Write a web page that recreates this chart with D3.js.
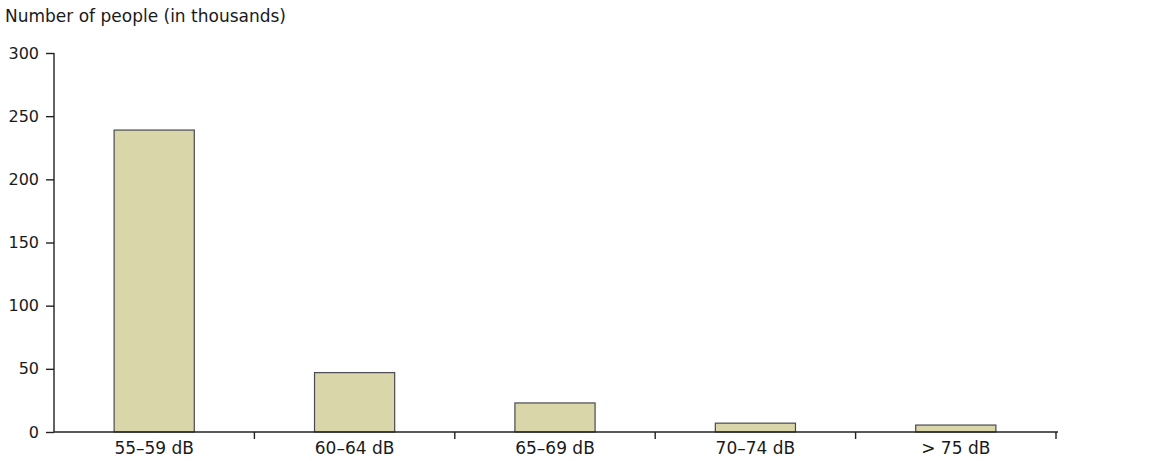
<!DOCTYPE html>
<html><head><meta charset="utf-8">
<script src="https://cdn.jsdelivr.net/npm/d3@7"></script>
<style>body{margin:0;background:#fff;}svg{display:block;font-family:"DejaVu Sans",Verdana,sans-serif;}</style>
</head><body>
<script>
const categories = ["55–59 dB","60–64 dB","65–69 dB","70–74 dB","> 75 dB"];
const values = [239, 47, 23, 7, 5.5];
const yTicks = [0,50,100,150,200,250,300];
const yTitle = "Number of people (in thousands)";

const W=1155,H=461, m={l:54,r:99,t:53,b:29};
const svg=d3.select("body").append("svg").attr("width",W).attr("height",H);
const x=d3.scaleBand().domain(categories).range([m.l,W-m.r]).paddingInner(0.6).paddingOuter(0.3);
const y=d3.scaleLinear().domain([0,300]).range([H-m.b,m.t]);

svg.append("text").attr("x",5).attr("y",22).attr("font-size",17).attr("fill","#1a1a1a").text(yTitle);

svg.selectAll("rect.bar").data(values).join("rect").attr("class","bar")
  .attr("x",(d,i)=>x(categories[i])).attr("width",x.bandwidth())
  .attr("y",d=>y(d)).attr("height",d=>y(0)-y(d))
  .attr("fill","#d9d7a9").attr("stroke","#4a4a50").attr("stroke-width",1.2);

const ya=svg.append("g").attr("transform",`translate(${m.l},0)`)
  .call(d3.axisLeft(y).tickValues(yTicks).tickSize(8).tickPadding(7));
ya.selectAll("text").attr("font-size",16).attr("fill","#1a1a1a").style("font-family","DejaVu Sans, Verdana, sans-serif");
ya.selectAll("line,path").attr("stroke","#222").attr("stroke-width",1.4);
ya.select(".domain").attr("d",`M0,${y(300)}V${y(0)}`);

// x axis with ticks at category boundaries
const xa=svg.append("g").attr("transform",`translate(0,${y(0)})`);
xa.append("line").attr("x1",m.l).attr("x2",W-m.r+2).attr("stroke","#222").attr("stroke-width",1.4);
const bounds=d3.range(1,categories.length+1).map(i=>m.l+i*(W-m.r-m.l)/categories.length);
xa.selectAll("line.t").data(bounds).join("line").attr("class","t")
  .attr("x1",d=>d).attr("x2",d=>d).attr("y1",0).attr("y2",7).attr("stroke","#222").attr("stroke-width",1.4);
xa.selectAll("text").data(categories).join("text")
  .attr("x",d=>x(d)+x.bandwidth()/2).attr("y",22).attr("text-anchor","middle")
  .attr("font-size",17).attr("fill","#1a1a1a").text(d=>d);
</script>
</body></html>
